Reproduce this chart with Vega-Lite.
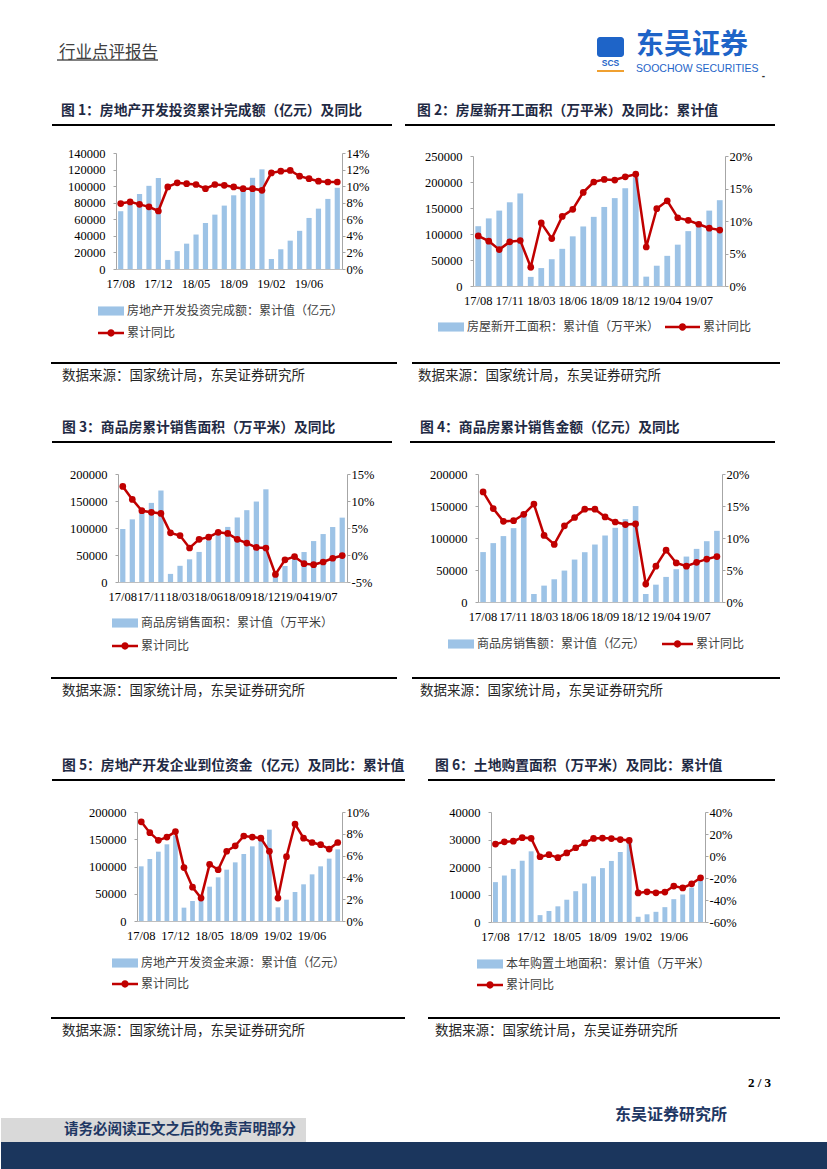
{
"$schema": "https://vega.github.io/schema/vega-lite/v6.json",
"padding": 0,
"autosize": {"type": "pad"},
"background": "#ffffff",
"data": {"values": [{}]},
"datasets": {
"d1": [{"m":"17/08","v":69745,"r":7.9},{"m":"17/09","v":80644,"r":8.1},{"m":"17/10","v":90544,"r":7.8},{"m":"17/11","v":100387,"r":7.5},{"m":"17/12","v":109799,"r":7.0},{"m":"18/02","v":10971,"r":9.9},{"m":"18/03","v":21567,"r":10.4},{"m":"18/04","v":30592,"r":10.3},{"m":"18/05","v":41606,"r":10.2},{"m":"18/06","v":55531,"r":9.7},{"m":"18/07","v":65617,"r":10.2},{"m":"18/08","v":76519,"r":10.1},{"m":"18/09","v":88948,"r":9.9},{"m":"18/10","v":99325,"r":9.7},{"m":"18/11","v":110083,"r":9.7},{"m":"18/12","v":120264,"r":9.5},{"m":"19/02","v":12090,"r":11.6},{"m":"19/03","v":23803,"r":11.8},{"m":"19/04","v":34217,"r":11.9},{"m":"19/05","v":46075,"r":11.2},{"m":"19/06","v":61609,"r":10.9},{"m":"19/07","v":72843,"r":10.6},{"m":"19/08","v":84589,"r":10.5},{"m":"19/09","v":98008,"r":10.5}],
"d2": [{"m":"17/08","v":115000,"r":7.7},{"m":"17/09","v":130000,"r":6.9},{"m":"17/10","v":145000,"r":5.6},{"m":"17/11","v":161000,"r":6.8},{"m":"17/12","v":178000,"r":7.0},{"m":"18/02","v":17500,"r":2.9},{"m":"18/03","v":34500,"r":9.7},{"m":"18/04","v":51500,"r":7.3},{"m":"18/05","v":71500,"r":10.7},{"m":"18/06","v":95500,"r":11.8},{"m":"18/07","v":114500,"r":14.4},{"m":"18/08","v":133000,"r":16.0},{"m":"18/09","v":152000,"r":16.4},{"m":"18/10","v":169000,"r":16.3},{"m":"18/11","v":188000,"r":16.8},{"m":"18/12","v":209000,"r":17.2},{"m":"19/02","v":18000,"r":6.0},{"m":"19/03","v":39000,"r":11.9},{"m":"19/04","v":58000,"r":13.1},{"m":"19/05","v":79500,"r":10.5},{"m":"19/06","v":105500,"r":10.1},{"m":"19/07","v":124000,"r":9.5},{"m":"19/08","v":145000,"r":8.9},{"m":"19/09","v":165000,"r":8.6}],
"d3": [{"m":"17/08","v":98179,"r":12.7},{"m":"17/09","v":116000,"r":10.3},{"m":"17/10","v":130254,"r":8.2},{"m":"17/11","v":146500,"r":7.9},{"m":"17/12","v":169408,"r":7.7},{"m":"18/02","v":15000,"r":4.1},{"m":"18/03","v":30000,"r":3.6},{"m":"18/04","v":42000,"r":1.3},{"m":"18/05","v":55700,"r":2.9},{"m":"18/06","v":77000,"r":3.3},{"m":"18/07","v":89000,"r":4.2},{"m":"18/08","v":102000,"r":4.0},{"m":"18/09","v":119500,"r":2.9},{"m":"18/10","v":133000,"r":2.2},{"m":"18/11","v":149000,"r":1.4},{"m":"18/12","v":171654,"r":1.3},{"m":"19/02","v":14100,"r":-3.6},{"m":"19/03","v":29700,"r":-0.9},{"m":"19/04","v":42400,"r":-0.3},{"m":"19/05","v":55500,"r":-1.6},{"m":"19/06","v":75800,"r":-1.8},{"m":"19/07","v":88800,"r":-1.3},{"m":"19/08","v":101800,"r":-0.6},{"m":"19/09","v":119200,"r":-0.1}],
"d4": [{"m":"17/08","v":78000,"r":17.2},{"m":"17/09","v":92000,"r":14.6},{"m":"17/10","v":103000,"r":12.6},{"m":"17/11","v":115400,"r":12.7},{"m":"17/12","v":133000,"r":13.7},{"m":"18/02","v":12500,"r":15.3},{"m":"18/03","v":25600,"r":10.4},{"m":"18/04","v":35500,"r":9.0},{"m":"18/05","v":49100,"r":11.9},{"m":"18/06","v":66300,"r":13.2},{"m":"18/07","v":77800,"r":14.5},{"m":"18/08","v":89800,"r":14.5},{"m":"18/09","v":103900,"r":13.3},{"m":"18/10","v":115900,"r":12.5},{"m":"18/11","v":129500,"r":12.1},{"m":"18/12","v":149900,"r":12.2},{"m":"19/02","v":12500,"r":2.8},{"m":"19/03","v":27100,"r":5.6},{"m":"19/04","v":39200,"r":8.1},{"m":"19/05","v":51200,"r":6.1},{"m":"19/06","v":71000,"r":5.6},{"m":"19/07","v":83000,"r":6.2},{"m":"19/08","v":95000,"r":6.7},{"m":"19/09","v":111200,"r":7.1}],
"d5": [{"m":"17/08","v":100300,"r":9.1},{"m":"17/09","v":113800,"r":8.1},{"m":"17/10","v":127200,"r":7.4},{"m":"17/11","v":140700,"r":7.7},{"m":"17/12","v":157200,"r":8.2},{"m":"18/02","v":24500,"r":4.9},{"m":"18/03","v":36700,"r":3.1},{"m":"18/04","v":48900,"r":2.1},{"m":"18/05","v":63000,"r":5.2},{"m":"18/06","v":80100,"r":4.7},{"m":"18/07","v":94200,"r":6.4},{"m":"18/08","v":107600,"r":6.9},{"m":"18/09","v":122900,"r":7.8},{"m":"18/10","v":137000,"r":7.7},{"m":"18/11","v":151100,"r":7.6},{"m":"18/12","v":167600,"r":6.4},{"m":"19/02","v":25100,"r":2.1},{"m":"19/03","v":39100,"r":5.9},{"m":"19/04","v":53200,"r":8.9},{"m":"19/05","v":67300,"r":7.6},{"m":"19/06","v":85600,"r":7.2},{"m":"19/07","v":100300,"r":7.0},{"m":"19/08","v":114400,"r":6.6},{"m":"19/09","v":131500,"r":7.2}],
"d6": [{"m":"17/08","v":14500,"r":10.8},{"m":"17/09","v":16900,"r":12.9},{"m":"17/10","v":19300,"r":13.5},{"m":"17/11","v":22300,"r":16.7},{"m":"17/12","v":25700,"r":16.1},{"m":"18/02","v":2500,"r":-0.7},{"m":"18/03","v":4000,"r":1.2},{"m":"18/04","v":5700,"r":-1.5},{"m":"18/05","v":8100,"r":2.8},{"m":"18/06","v":11200,"r":7.5},{"m":"18/07","v":14000,"r":11.9},{"m":"18/08","v":16600,"r":16.0},{"m":"18/09","v":19600,"r":16.3},{"m":"18/10","v":22200,"r":15.8},{"m":"18/11","v":25500,"r":14.9},{"m":"18/12","v":29200,"r":14.2},{"m":"19/02","v":1900,"r":-33.6},{"m":"19/03","v":2800,"r":-32.6},{"m":"19/04","v":3700,"r":-33.5},{"m":"19/05","v":5400,"r":-32.8},{"m":"19/06","v":8300,"r":-27.3},{"m":"19/07","v":10000,"r":-29.0},{"m":"19/08","v":12500,"r":-25.3},{"m":"19/09","v":15300,"r":-19.8}]
},
"columns": 2,
"align": "each",
"bounds": "flush",
"spacing": 0,
"resolve": {"scale": {"fill": "independent", "color": "independent"}},
"concat": [
{"width":1,"height":37,"mark":"point"},
{"width":1,"height":1,"mark":"point"},

{"width":1,"height":22,"mark":"point"},
{"bounds":"flush","spacing":0,"hconcat":[
 {"width":596,"height":1,"mark":"point"},
 {"width":27,"height":20,"mark":"point","view":{"fill":"#1e64c8","cornerRadius":3},"title":{"text":"SCS","orient":"bottom","anchor":"middle","offset":2,"font":"Liberation Sans","fontSize":8.5,"fontWeight":"bold","color":"#1e64c8"}}
]},

{"width":1,"height":11,"mark":"point"},
{"bounds":"flush","spacing":0,"hconcat":[
 {"width":56,"height":1,"mark":"point"},
 {"width":101,"height":2,"mark":"point","view":{"fill":"#808080"},"title":{"text":"行业点评报告","orient":"top","anchor":"start","offset":-2,"dx":2,"fontSize":16.5,"fontWeight":"normal","color":"#404040"}}
]},

{"width":1,"height":54,"mark":"point"},
{"bounds":"flush","spacing":0,"hconcat":[
 {"width":596,"height":1,"mark":"point"},
 {"width":27,"height":2,"mark":"point","view":{"fill":"#f0a030"},"title":{"text":"东吴证券","subtitle":"SOOCHOW SECURITIES","orient":"top","anchor":"start","dx":39,"offset":-4,"fontSize":28,"fontWeight":"bold","color":"#1e64c8","subtitleFont":"Liberation Sans","subtitleFontSize":10.5,"subtitleColor":"#1e64c8","subtitlePadding":4}},
 {"width":141,"height":1,"mark":"point","title":{"text":"-","orient":"bottom","anchor":"end","offset":0,"font":"Liberation Sans","fontSize":10,"color":"#333333"}}
]},

{"width":1,"height":29,"mark":"point"},
{"bounds":"flush","spacing":0,"hconcat":[
 {"width":51,"height":1,"mark":"point"},
 {"width":340,"height":2,"mark":"point","view":{"fill":"#000000"},"title":{"text":"图 1：房地产开发投资累计完成额（亿元）及同比","orient":"top","anchor":"start","offset":6,"dx":9,"fontSize":13.8,"fontWeight":"bold","color":"#1f2a44"}},
 {"width":13,"height":1,"mark":"point"},
 {"width":370,"height":2,"mark":"point","view":{"fill":"#000000"},"title":{"text":"图 2：房屋新开工面积（万平米）及同比：累计值","orient":"top","anchor":"start","offset":6,"dx":12,"fontSize":13.8,"fontWeight":"bold","color":"#1f2a44"}}
]},

{"width":1,"height":209,"mark":"point"},
{"bounds":"flush","spacing":0,"resolve":{"scale":{"fill":"independent","color":"independent"}},"hconcat":[
 {"width":115,"height":1,"mark":"point"},
 {"width":226,"height":116,"data":{"name":"d1"},
  "encoding":{"x":{"field":"m","type":"ordinal","sort":null,"scale":{"paddingInner":0.45,"paddingOuter":0.225},"axis":{"title":null,"values":["17/08","17/12","18/05","18/09","19/02","19/06"]}}},
  "layer":[
   {"mark":{"type":"bar"},"encoding":{"y":{"field":"v","type":"quantitative","scale":{"domain":[0,140000],"nice":false},"axis":{"title":null,"orient":"left","values":[0,20000,40000,60000,80000,100000,120000,140000],"format":"d"}},
    "fill":{"datum":"房地产开发投资完成额：累计值（亿元）","scale":{"range":["#9DC3E6"]},"legend":{"title":null,"legendX":-18,"legendY":145,"symbolType":"M-1,-0.35L1,-0.35L1,0.35L-1,0.35Z","symbolSize":676}}}},
   {"encoding":{"y":{"field":"r","type":"quantitative","scale":{"domain":[0,14],"nice":false},"axis":{"title":null,"orient":"right","values":[0,2,4,6,8,10,12,14],"labelExpr":"datum.value + '%'"}}},
    "layer":[
     {"mark":{"type":"line","color":"#C00000","strokeWidth":2.5},"encoding":{}},
     {"mark":{"type":"point","filled":true,"size":45,"opacity":1,"strokeWidth":0},"encoding":{"color":{"datum":"累计同比","scale":{"range":["#C00000"]},"legend":{"title":null,"legendX":-18,"legendY":167,"symbolType":"M-1,-0.1L1,-0.1L1,0.1L-1,0.1Z M0.28,0A0.28,0.28 0 1,1 -0.28,0A0.28,0.28 0 1,1 0.28,0Z","symbolSize":676}}}}
    ]}
  ],
  "resolve":{"scale":{"y":"independent"}}},
 {"width":131,"height":1,"mark":"point"},
 {"bounds":"flush","spacing":0,"resolve":{"scale":{"fill":"independent","color":"independent"}},"vconcat":[
  {"width":1,"height":3,"mark":"point"},
  {"width":252,"height":130,"data":{"name":"d2"},
   "encoding":{"x":{"field":"m","type":"ordinal","sort":null,"scale":{"paddingInner":0.45,"paddingOuter":0.225},"axis":{"title":null,"values":["17/08","17/11","18/03","18/06","18/09","18/12","19/04","19/07"]}}},
   "layer":[
    {"mark":{"type":"bar"},"encoding":{"y":{"field":"v","type":"quantitative","scale":{"domain":[0,250000],"nice":false},"axis":{"title":null,"orient":"left","values":[0,50000,100000,150000,200000,250000],"format":"d"}},
     "fill":{"datum":"房屋新开工面积：累计值（万平米）","scale":{"range":["#9DC3E6"]},"legend":{"title":null,"legendX":-35,"legendY":158,"symbolType":"M-1,-0.35L1,-0.35L1,0.35L-1,0.35Z","symbolSize":676}}}},
    {"encoding":{"y":{"field":"r","type":"quantitative","scale":{"domain":[0,20],"nice":false},"axis":{"title":null,"orient":"right","values":[0,5,10,15,20],"labelExpr":"datum.value + '%'"}}},
     "layer":[
      {"mark":{"type":"line","color":"#C00000","strokeWidth":2.5},"encoding":{}},
      {"mark":{"type":"point","filled":true,"size":45,"opacity":1,"strokeWidth":0},"encoding":{"color":{"datum":"累计同比","scale":{"range":["#C00000"]},"legend":{"title":null,"legendX":192,"legendY":153.5,"symbolType":"M-1,-0.072L1,-0.072L1,0.072L-1,0.072Z M0.21,0A0.21,0.21 0 1,1 -0.21,0A0.21,0.21 0 1,1 0.21,0Z","symbolSize":1225}}}}
     ]}
   ],
   "resolve":{"scale":{"y":"independent"}}}
 ]}
]},

{"width":1,"height":79,"mark":"point"},
{"bounds":"flush","spacing":0,"hconcat":[
 {"width":50,"height":1,"mark":"point"},
 {"width":346,"height":2,"mark":"point","view":{"fill":"#000000"},"title":{"text":"数据来源：国家统计局，东吴证券研究所","orient":"bottom","anchor":"start","offset":5,"dx":11,"fontSize":13.5,"fontWeight":"normal","color":"#262626"}},
 {"width":15,"height":1,"mark":"point"},
 {"width":368,"height":2,"mark":"point","view":{"fill":"#000000"},"title":{"text":"数据来源：国家统计局，东吴证券研究所","orient":"bottom","anchor":"start","offset":5,"dx":6,"fontSize":13.5,"fontWeight":"normal","color":"#262626"}}
]},

{"width":1,"height":33,"mark":"point"},
{"bounds":"flush","spacing":0,"hconcat":[
 {"width":51,"height":1,"mark":"point"},
 {"width":340,"height":2,"mark":"point","view":{"fill":"#000000"},"title":{"text":"图 3：商品房累计销售面积（万平米）及同比","orient":"top","anchor":"start","offset":6,"dx":10,"fontSize":13.8,"fontWeight":"bold","color":"#1f2a44"}},
 {"width":18,"height":1,"mark":"point"},
 {"width":365,"height":2,"mark":"point","view":{"fill":"#000000"},"title":{"text":"图 4：商品房累计销售金额（亿元）及同比","orient":"top","anchor":"start","offset":6,"dx":10,"fontSize":13.8,"fontWeight":"bold","color":"#1f2a44"}}
]},

{"width":1,"height":203,"mark":"point"},
{"bounds":"flush","spacing":0,"resolve":{"scale":{"fill":"independent","color":"independent"}},"hconcat":[
 {"width":117,"height":1,"mark":"point"},
 {"width":229,"height":108,"data":{"name":"d3"},
  "encoding":{"x":{"field":"m","type":"ordinal","sort":null,"scale":{"paddingInner":0.45,"paddingOuter":0.225},"axis":{"title":null,"values":["17/08","17/11","18/03","18/06","18/09","18/12","19/04","19/07"]}}},
  "layer":[
   {"mark":{"type":"bar"},"encoding":{"y":{"field":"v","type":"quantitative","scale":{"domain":[0,200000],"nice":false},"axis":{"title":null,"orient":"left","values":[0,50000,100000,150000,200000],"format":"d"}},
    "fill":{"datum":"商品房销售面积：累计值（万平米）","scale":{"range":["#9DC3E6"]},"legend":{"title":null,"legendX":-6,"legendY":136,"symbolType":"M-1,-0.35L1,-0.35L1,0.35L-1,0.35Z","symbolSize":676}}}},
   {"encoding":{"y":{"field":"r","type":"quantitative","scale":{"domain":[-5,15],"nice":false,"zero":false},"axis":{"title":null,"orient":"right","values":[-5,0,5,10,15],"labelExpr":"datum.value + '%'"}}},
    "layer":[
     {"mark":{"type":"line","color":"#C00000","strokeWidth":2.5},"encoding":{}},
     {"mark":{"type":"point","filled":true,"size":45,"opacity":1,"strokeWidth":0},"encoding":{"color":{"datum":"累计同比","scale":{"range":["#C00000"]},"legend":{"title":null,"legendX":-6,"legendY":159,"symbolType":"M-1,-0.1L1,-0.1L1,0.1L-1,0.1Z M0.28,0A0.28,0.28 0 1,1 -0.28,0A0.28,0.28 0 1,1 0.28,0Z","symbolSize":676}}}}
    ]}
  ],
  "resolve":{"scale":{"y":"independent"}}},
 {"width":131,"height":1,"mark":"point"},
 {"width":244,"height":128,"data":{"name":"d4"},
  "encoding":{"x":{"field":"m","type":"ordinal","sort":null,"scale":{"paddingInner":0.45,"paddingOuter":0.225},"axis":{"title":null,"values":["17/08","17/11","18/03","18/06","18/09","18/12","19/04","19/07"]}}},
  "layer":[
   {"mark":{"type":"bar"},"encoding":{"y":{"field":"v","type":"quantitative","scale":{"domain":[0,200000],"nice":false},"axis":{"title":null,"orient":"left","values":[0,50000,100000,150000,200000],"format":"d"}},
    "fill":{"datum":"商品房销售额：累计值（亿元）","scale":{"range":["#9DC3E6"]},"legend":{"title":null,"legendX":-30,"legendY":157,"symbolType":"M-1,-0.35L1,-0.35L1,0.35L-1,0.35Z","symbolSize":676}}}},
   {"encoding":{"y":{"field":"r","type":"quantitative","scale":{"domain":[0,20],"nice":false},"axis":{"title":null,"orient":"right","values":[0,5,10,15,20],"labelExpr":"datum.value + '%'"}}},
    "layer":[
     {"mark":{"type":"line","color":"#C00000","strokeWidth":2.5},"encoding":{}},
     {"mark":{"type":"point","filled":true,"size":45,"opacity":1,"strokeWidth":0},"encoding":{"color":{"datum":"累计同比","scale":{"range":["#C00000"]},"legend":{"title":null,"legendX":184,"legendY":154.5,"symbolType":"M-1,-0.08L1,-0.08L1,0.08L-1,0.08Z M0.235,0A0.235,0.235 0 1,1 -0.235,0A0.235,0.235 0 1,1 0.235,0Z","symbolSize":961}}}}
    ]}
  ],
  "resolve":{"scale":{"y":"independent"}}}
]},

{"width":1,"height":102,"mark":"point"},
{"bounds":"flush","spacing":0,"hconcat":[
 {"width":50,"height":1,"mark":"point"},
 {"width":346,"height":2,"mark":"point","view":{"fill":"#000000"},"title":{"text":"数据来源：国家统计局，东吴证券研究所","orient":"bottom","anchor":"start","offset":5,"dx":11,"fontSize":13.5,"fontWeight":"normal","color":"#262626"}},
 {"width":15,"height":1,"mark":"point"},
 {"width":368,"height":2,"mark":"point","view":{"fill":"#000000"},"title":{"text":"数据来源：国家统计局，东吴证券研究所","orient":"bottom","anchor":"start","offset":5,"dx":8,"fontSize":13.5,"fontWeight":"normal","color":"#262626"}}
]},

{"width":1,"height":33,"mark":"point"},
{"bounds":"flush","spacing":0,"hconcat":[
 {"width":51,"height":1,"mark":"point"},
 {"width":353,"height":2,"mark":"point","view":{"fill":"#000000"},"title":{"text":"图 5：房地产开发企业到位资金（亿元）及同比：累计值","orient":"top","anchor":"start","offset":6,"dx":10,"fontSize":13.8,"fontWeight":"bold","color":"#1f2a44"}},
 {"width":23,"height":1,"mark":"point"},
 {"width":347,"height":2,"mark":"point","view":{"fill":"#000000"},"title":{"text":"图 6：土地购置面积（万平米）及同比：累计值","orient":"top","anchor":"start","offset":6,"dx":7,"fontSize":13.8,"fontWeight":"bold","color":"#1f2a44"}}
]},

{"width":1,"height":205,"mark":"point"},
{"bounds":"flush","spacing":0,"resolve":{"scale":{"fill":"independent","color":"independent"}},"hconcat":[
 {"width":136,"height":1,"mark":"point"},
 {"width":205,"height":109,"data":{"name":"d5"},
  "encoding":{"x":{"field":"m","type":"ordinal","sort":null,"scale":{"paddingInner":0.45,"paddingOuter":0.225},"axis":{"title":null,"values":["17/08","17/12","18/05","18/09","19/02","19/06"]}}},
  "layer":[
   {"mark":{"type":"bar"},"encoding":{"y":{"field":"v","type":"quantitative","scale":{"domain":[0,200000],"nice":false},"axis":{"title":null,"orient":"left","values":[0,50000,100000,150000,200000],"format":"d"}},
    "fill":{"datum":"房地产开发资金来源：累计值（亿元）","scale":{"range":["#9DC3E6"]},"legend":{"title":null,"legendX":-25,"legendY":138,"symbolType":"M-1,-0.35L1,-0.35L1,0.35L-1,0.35Z","symbolSize":676}}}},
   {"encoding":{"y":{"field":"r","type":"quantitative","scale":{"domain":[0,10],"nice":false},"axis":{"title":null,"orient":"right","values":[0,2,4,6,8,10],"labelExpr":"datum.value + '%'"}}},
    "layer":[
     {"mark":{"type":"line","color":"#C00000","strokeWidth":2.5},"encoding":{}},
     {"mark":{"type":"point","filled":true,"size":45,"opacity":1,"strokeWidth":0},"encoding":{"color":{"datum":"累计同比","scale":{"range":["#C00000"]},"legend":{"title":null,"legendX":-25,"legendY":159,"symbolType":"M-1,-0.1L1,-0.1L1,0.1L-1,0.1Z M0.28,0A0.28,0.28 0 1,1 -0.28,0A0.28,0.28 0 1,1 0.28,0Z","symbolSize":676}}}}
    ]}
  ],
  "resolve":{"scale":{"y":"independent"}}},
 {"width":149,"height":1,"mark":"point"},
 {"width":214,"height":110,"data":{"name":"d6"},
  "encoding":{"x":{"field":"m","type":"ordinal","sort":null,"scale":{"paddingInner":0.45,"paddingOuter":0.225},"axis":{"title":null,"values":["17/08","17/12","18/05","18/09","19/02","19/06"]}}},
  "layer":[
   {"mark":{"type":"bar"},"encoding":{"y":{"field":"v","type":"quantitative","scale":{"domain":[0,40000],"nice":false},"axis":{"title":null,"orient":"left","values":[0,10000,20000,30000,40000],"format":"d"}},
    "fill":{"datum":"本年购置土地面积：累计值（万平米）","scale":{"range":["#9DC3E6"]},"legend":{"title":null,"legendX":-14,"legendY":139,"symbolType":"M-1,-0.35L1,-0.35L1,0.35L-1,0.35Z","symbolSize":676}}}},
   {"encoding":{"y":{"field":"r","type":"quantitative","scale":{"domain":[-60,40],"nice":false,"zero":false},"axis":{"title":null,"orient":"right","values":[-60,-40,-20,0,20,40],"labelExpr":"datum.value + '%'"}}},
    "layer":[
     {"mark":{"type":"line","color":"#C00000","strokeWidth":2.5},"encoding":{}},
     {"mark":{"type":"point","filled":true,"size":45,"opacity":1,"strokeWidth":0},"encoding":{"color":{"datum":"累计同比","scale":{"range":["#C00000"]},"legend":{"title":null,"legendX":-14,"legendY":160,"symbolType":"M-1,-0.1L1,-0.1L1,0.1L-1,0.1Z M0.28,0A0.28,0.28 0 1,1 -0.28,0A0.28,0.28 0 1,1 0.28,0Z","symbolSize":676}}}}
    ]}
  ],
  "resolve":{"scale":{"y":"independent"}}}
]},

{"width":1,"height":101,"mark":"point"},
{"bounds":"flush","spacing":0,"hconcat":[
 {"width":50,"height":1,"mark":"point"},
 {"width":354,"height":2,"mark":"point","view":{"fill":"#000000"},"title":{"text":"数据来源：国家统计局，东吴证券研究所","orient":"bottom","anchor":"start","offset":5,"dx":11,"fontSize":13.5,"fontWeight":"normal","color":"#262626"}},
 {"width":23,"height":1,"mark":"point"},
 {"width":352,"height":2,"mark":"point","view":{"fill":"#000000"},"title":{"text":"数据来源：国家统计局，东吴证券研究所","orient":"bottom","anchor":"start","offset":5,"dx":7,"fontSize":13.5,"fontWeight":"normal","color":"#262626"}},
 {"width":1,"height":1,"mark":"point","title":{"text":"2 / 3","orient":"bottom","anchor":"end","dx":-10,"offset":59,"font":"Liberation Serif","fontSize":13,"fontWeight":"bold","color":"#000000"}}
]},

{"width":1,"height":24,"mark":"point"},
{"width":305,"height":24,"mark":"point","view":{"fill":"#d9d9d9"},"title":{"text":"请务必阅读正文之后的免责声明部分","orient":"top","anchor":"end","dx":-10,"offset":-19,"fontSize":14.5,"fontWeight":"bold","color":"#1f3864"}},

{"width":1,"height":27,"mark":"point"},
{"width":826,"height":27,"mark":"point","view":{"fill":"#1b365d"},"title":{"text":"东吴证券研究所","orient":"top","anchor":"end","dx":-100,"offset":19,"fontSize":16,"fontWeight":"bold","color":"#1f3864"}}
],
"config": {
 "font": "Noto Sans CJK SC",
 "view": {"stroke": null},
 "point": {"size": 0, "opacity": 0, "filled": true, "strokeWidth": 0},
 "bar": {"stroke": null},
 "title": {"anchor": "start", "frame": "group", "font": "Noto Sans CJK SC"},
 "axis": {"labelFont": "Liberation Serif", "labelFontSize": 12.5, "labelColor": "#000000", "domainColor": "#a6a6a6", "tickColor": "#a6a6a6", "grid": false, "domainWidth": 1, "labelOverlap": false, "labelFlush": false},
 "axisX": {"ticks": false, "tickSize": 0, "labelPadding": 8, "labelAngle": 0, "domainColor": "#bfbfbf"},
 "axisLeft": {"tickSize": 3, "labelPadding": 8},
 "axisRight": {"tickSize": 3, "labelPadding": 1},
 "legend": {"orient": "none", "padding": 0, "symbolStrokeWidth": 0, "symbolOpacity": 1, "labelFont": "Noto Sans CJK SC", "labelFontSize": 12, "labelColor": "#404040", "labelOffset": 3, "labelLimit": 400}
}
}
